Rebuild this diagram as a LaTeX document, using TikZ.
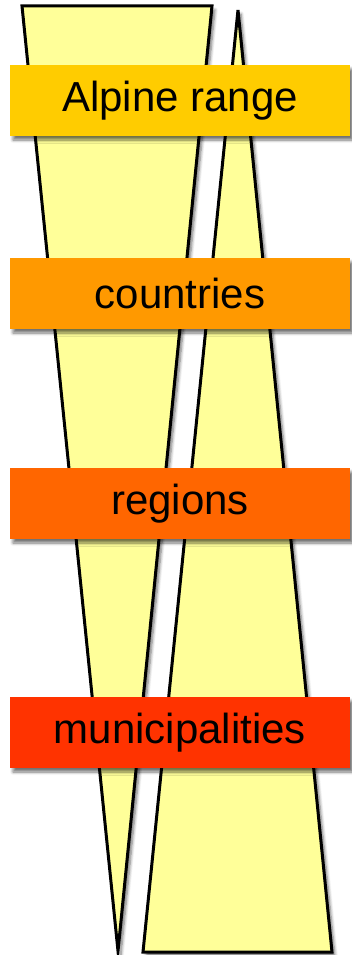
\documentclass[tikz,border=0pt]{standalone}
\usepackage{fontspec}
\setmainfont{Liberation Sans}
\usetikzlibrary{shadows.blur}
\definecolor{tri}{HTML}{FFFF99}
\definecolor{c1}{HTML}{FFCC00}
\definecolor{c2}{HTML}{FF9900}
\definecolor{c3}{HTML}{FF6600}
\definecolor{c4}{HTML}{FF3300}
\tikzset{
  shd/.style={blur shadow={shadow xshift=3pt, shadow yshift=-4pt, shadow blur steps=6, shadow opacity=55, shadow blur radius=3pt}},
  tristyle/.style={fill=tri, draw=black, line width=3pt, line join=miter, shd},
  level/.style={rectangle, minimum width=340pt, minimum height=71pt, inner sep=0pt, draw=none, shd, font=\fontsize{42}{50}\selectfont, text=black}
}
\begin{document}
\begin{tikzpicture}[x=1pt,y=-1pt]
\useasboundingbox (0,0) rectangle (351,955);
\path[tristyle] (22,6) -- (212,6) -- (118,951) -- cycle;
\path[tristyle] (238,10) -- (332,952) -- (143,952) -- cycle;
\node[level, fill=c1] (alpine) at (180,100.5) {Alpine range};
\node[level, fill=c2] (countries) at (180,293.5) {countries};
\node[level, fill=c3] (regions) at (180,503.5) {regions};
\node[level, fill=c4] (muni) at (180,732.5) {municipalities};
\end{tikzpicture}
\end{document}
